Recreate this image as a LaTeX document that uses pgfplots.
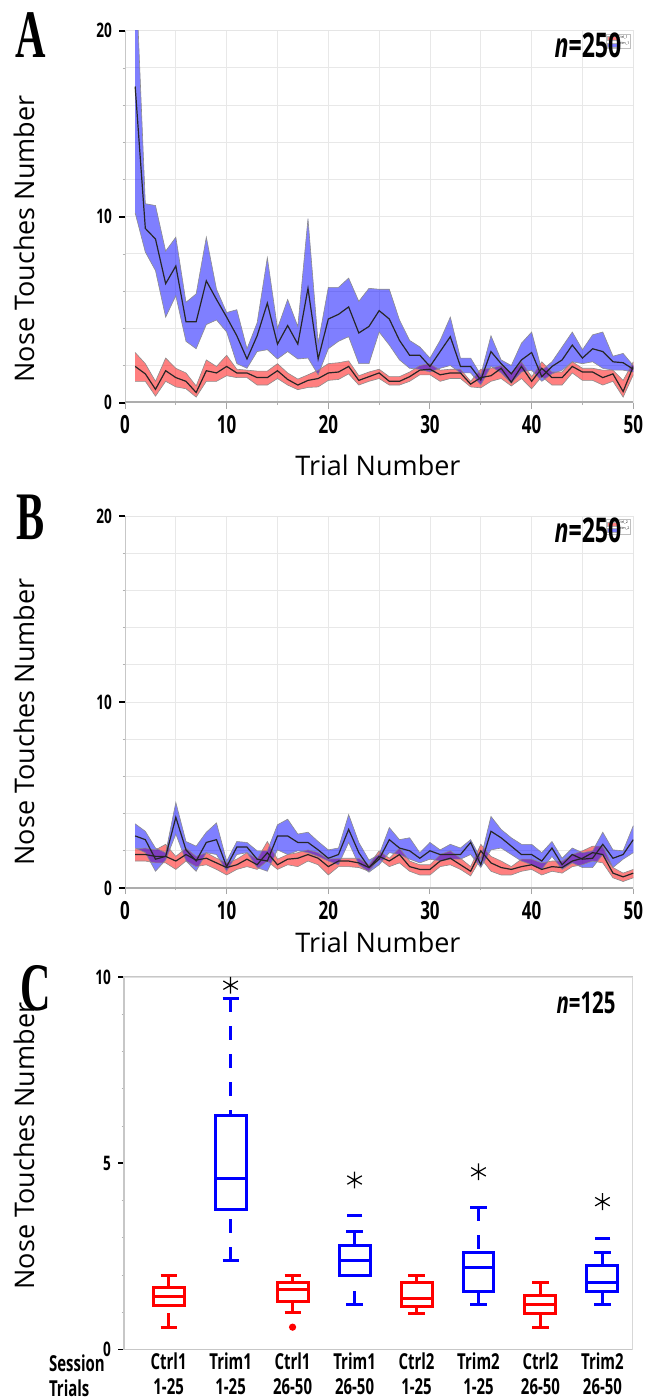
\documentclass[border=0pt]{standalone}
\usepackage{fontspec}
\setmainfont{Open Sans}
\newfontfamily\cf{Open Sans}[FakeStretch=0.68]
\newfontfamily\lf{Liberation Serif}[FakeStretch=0.62]
\usepackage{pgfplots}
\usepackage{pgfplotstable}
\pgfplotsset{compat=1.18}
\usepgfplotslibrary{fillbetween,statistics}

\pgfplotstableread{
t m lo hi
1 17.0 10.2 24
2 9.37 8.1 10.7
3 8.8 7.1 10.6
4 6.4 4.6 8.15
5 7.35 5.75 8.9
6 4.35 3.3 5.4
7 4.35 2.9 5.85
8 6.55 4.2 8.9
9 5.55 4.45 6.1
10 4.6 3.8 4.85
11 3.6 2.1 5.0
12 2.35 1.85 2.9
13 3.6 2.75 4.3
14 5.35 2.85 7.8
15 3.15 2.35 4.0
16 4.15 2.75 5.55
17 3.15 2.35 4.1
18 6.15 2.4 9.9
19 2.35 1.5 3.2
20 4.5 2.9 6.2
21 4.75 3.3 6.2
22 5.15 3.55 6.7
23 3.75 2.1 5.45
24 4.1 2.1 6.15
25 4.95 3.8 6.1
26 4.5 3.1 6.1
27 3.35 2.3 4.45
28 2.55 1.85 3.35
29 2.55 1.8 3.0
30 1.95 1.65 2.4
31 2.75 1.85 3.35
32 3.55 2.0 4.6
33 1.95 1.6 2.4
34 1.95 1.6 2.4
35 1.22 0.95 1.5
36 2.75 1.95 3.6
37 2.1 1.6 2.3
38 1.55 1.05 2.0
39 2.3 1.65 3.2
40 2.7 1.75 3.8
41 1.4 1.15 1.75
42 1.95 1.55 2.2
43 2.3 1.75 3.0
44 3.1 2.2 3.8
45 2.4 2.1 2.85
46 2.9 2.2 3.65
47 2.75 1.85 3.8
48 2.2 1.75 2.5
49 2.15 1.75 2.65
50 1.8 1.65 2.0
}\blueA

\pgfplotstableread{
t m lo hi
1 1.95 1.15 2.7
2 1.55 1.15 2.1
3 0.72 0.35 1.15
4 1.72 1.15 2.4
5 1.35 0.85 1.85
6 1.15 0.75 1.6
7 0.55 0.3 0.9
8 1.72 1.15 2.3
9 1.6 1.15 1.95
10 1.95 1.45 2.55
11 1.6 1.35 1.8
12 1.6 1.35 1.75
13 1.35 0.95 1.7
14 1.35 0.95 1.7
15 1.72 1.3 2.1
16 1.25 0.95 1.6
17 0.95 0.7 1.27
18 1.2 0.82 1.5
19 1.3 0.85 1.75
20 1.6 1.2 2.1
21 1.65 1.25 2.15
22 1.95 1.55 2.25
23 1.2 0.95 1.45
24 1.4 1.15 1.65
25 1.6 1.3 1.8
26 1.15 0.95 1.4
27 1.15 0.95 1.4
28 1.4 1.15 1.65
29 1.75 1.5 2.0
30 1.8 1.5 2.1
31 1.5 1.15 1.75
32 1.6 1.3 1.8
33 1.6 1.3 1.8
34 1.0 0.85 1.15
35 1.35 0.8 1.8
36 1.45 1.15 1.85
37 1.85 1.3 2.0
38 1.1 0.9 1.6
39 1.95 1.3 2.2
40 1.15 0.75 1.4
41 1.85 1.4 2.2
42 1.35 0.95 1.65
43 1.35 0.95 1.65
44 1.95 1.6 2.2
45 1.65 1.2 1.85
46 1.65 1.2 1.85
47 1.35 0.95 1.75
48 1.55 1.15 1.75
49 0.6 0.3 1.2
50 1.95 1.5 2.2
}\redA

\pgfplotstableread{
t m lo hi
1 2.8 2.15 3.45
2 2.6 1.9 3.05
3 1.55 0.9 2.15
4 1.7 1.5 1.9
5 3.8 2.9 4.6
6 2.05 1.45 2.5
7 1.45 0.9 2.25
8 2.45 1.9 3.0
9 2.6 1.8 3.5
10 1.15 0.9 1.45
11 2.2 1.8 2.5
12 2.2 1.9 2.45
13 1.55 1.1 2.0
14 1.45 0.9 2.0
15 2.8 2.05 3.4
16 2.8 1.8 3.7
17 2.45 2.0 2.9
18 2.45 1.9 3.0
19 2.05 1.7 2.5
20 1.6 1.45 2.05
21 1.8 1.25 2.15
22 3.15 2.45 3.95
23 1.9 1.25 2.45
24 1.1 0.85 1.5
25 1.55 1.25 1.8
26 2.6 1.9 3.25
27 2.15 1.8 2.6
28 2.0 1.55 2.7
29 1.6 1.35 1.9
30 2.0 1.55 2.45
31 1.8 1.45 2.05
32 1.8 1.55 2.35
33 1.8 1.55 2.15
34 2.45 1.8 2.6
35 1.25 1.1 1.6
36 3.05 2.05 3.85
37 2.7 2.15 3.15
38 2.25 1.8 2.7
39 1.8 1.45 2.35
40 1.8 1.25 2.35
41 1.45 1.0 1.9
42 2.15 1.7 2.5
43 1.25 1.0 1.6
44 1.8 1.35 2.15
45 1.55 1.1 1.9
46 1.6 1.1 2.0
47 2.35 1.8 3.0
48 1.6 1.1 2.05
49 1.8 1.55 2.0
50 2.6 1.9 3.35
}\blueB

\pgfplotstableread{
t m lo hi
1 1.8 1.45 2.1
2 1.8 1.45 2.15
3 1.7 1.35 2.05
4 1.7 1.35 2.35
5 1.45 1.0 1.7
6 1.8 1.45 2.15
7 1.5 1.15 1.7
8 1.6 1.25 1.9
9 1.35 1.0 1.6
10 1.1 0.7 1.35
11 1.25 1.0 1.55
12 1.55 1.15 1.9
13 1.25 1.0 1.55
14 1.9 1.45 2.5
15 1.25 1.0 1.55
16 1.55 1.25 1.8
17 1.6 1.15 1.9
18 1.8 1.45 2.05
19 1.6 1.25 1.9
20 1.15 0.7 1.55
21 1.45 1.15 1.6
22 1.45 1.15 1.6
23 1.35 1.1 1.6
24 1.1 0.9 1.25
25 1.7 1.55 2.0
26 1.45 1.15 1.6
27 1.8 1.35 2.15
28 1.15 0.9 1.45
29 1.0 0.7 1.25
30 1.0 0.7 1.25
31 1.45 1.15 1.8
32 1.6 1.25 2.0
33 1.25 1.0 1.6
34 0.9 0.65 1.15
35 2.0 1.6 2.35
36 1.35 0.9 1.7
37 1.1 0.7 1.45
38 1.0 0.7 1.15
39 1.15 0.9 1.55
40 1.25 1.0 1.55
41 1.0 0.7 1.35
42 1.15 0.9 1.45
43 1.1 0.8 1.45
44 1.45 1.15 1.8
45 1.6 1.25 2.0
46 1.9 1.45 2.25
47 1.8 1.35 2.25
48 0.8 0.55 1.1
49 0.6 0.35 0.8
50 0.8 0.55 1.0
}\redB

\pgfplotsset{
  trialaxis/.style={
    scale only axis, width=254.15pt, height=186pt, anchor=south west,
    xmin=0, xmax=50, ymin=0, ymax=20,
    xtick={0,10,...,50}, minor xtick={5,15,...,45},
    ytick={0,10,20}, minor ytick={2,4,6,8,12,14,16,18},
    grid=both,
    major grid style={black!9, line width=0.45pt},
    minor grid style={black!9, line width=0.45pt},
    axis line style={black!10, line width=0.45pt},
    tick align=outside, tick pos=left,
    major tick length=3pt, minor tick length=1.2pt,
    major y tick style={black, line width=0.9pt},
    major x tick style={black!35, line width=0.5pt},
    minor tick style={black!30, line width=0.4pt},
    /pgf/number format/assume math mode=true,
    yticklabel style={font=\cf\bfseries\fontsize{10}{10}\selectfont},
    xticklabel style={font=\cf\bfseries\fontsize{12.5}{12.5}\selectfont},
    legend style={at={(0.996,0.992)}, anchor=north east,
      font=\fontsize{1.8}{2}\selectfont, inner sep=0.4pt,
      draw=black!25, fill=white, row sep=-0.3pt,
      nodes={inner sep=0.3pt}},
    legend cell align=left,
  },
  bandedge/.style={black!45, line width=0.3pt, forget plot},
  meanline/.style={black!85, line width=0.6pt, forget plot},
  boxst/.style={line width=1.5pt, solid,
    boxplot/box extend=0.5, boxplot/whisker extend=0.26},
  redleg/.style={legend image code/.code={\filldraw[fill=red!50,draw=black!30,line width=0.1pt] (0pt,-1pt) rectangle (5pt,1pt);}},
  blueleg/.style={legend image code/.code={\filldraw[fill=blue!50,draw=black!30,line width=0.1pt] (0pt,-1pt) rectangle (5pt,1pt);}},
}

\begin{document}
\begin{tikzpicture}

% ---------- Panel A ----------
\begin{axis}[trialaxis, at={(62.5pt,-201.35pt)}]
\addlegendimage{redleg}
\addlegendimage{blueleg}
\addplot[bandedge, name path=ru] table[x=t,y=hi]{\redA};
\addplot[bandedge, name path=rl] table[x=t,y=lo]{\redA};
\addplot[fill=red, fill opacity=0.5, draw=none, forget plot] fill between[of=ru and rl];
\addplot[bandedge, name path=bu] table[x=t,y=hi]{\blueA};
\addplot[bandedge, name path=bl] table[x=t,y=lo]{\blueA};
\addplot[fill=blue, fill opacity=0.5, draw=none, forget plot] fill between[of=bu and bl];
\addplot[meanline] table[x=t,y=m]{\redA};
\addplot[meanline] table[x=t,y=m]{\blueA};
\draw[black!22, line width=1.3pt] (rel axis cs:0,0) -- (rel axis cs:0,1);
\draw[black!32, line width=1.3pt] (rel axis cs:0,0) -- (rel axis cs:1,0);
\legend{Ctrl\_1,Trim\_1}
\end{axis}

% ---------- Panel B ----------
\begin{axis}[trialaxis, at={(62.5pt,-444pt)}]
\addlegendimage{redleg}
\addlegendimage{blueleg}
\addplot[bandedge, name path=ru] table[x=t,y=hi]{\redB};
\addplot[bandedge, name path=rl] table[x=t,y=lo]{\redB};
\addplot[fill=red, fill opacity=0.5, draw=none, forget plot] fill between[of=ru and rl];
\addplot[bandedge, name path=bu] table[x=t,y=hi]{\blueB};
\addplot[bandedge, name path=bl] table[x=t,y=lo]{\blueB};
\addplot[fill=blue, fill opacity=0.5, draw=none, forget plot] fill between[of=bu and bl];
\addplot[meanline] table[x=t,y=m]{\redB};
\addplot[meanline] table[x=t,y=m]{\blueB};
\draw[black!22, line width=1.3pt] (rel axis cs:0,0) -- (rel axis cs:0,1);
\draw[black!32, line width=1.3pt] (rel axis cs:0,0) -- (rel axis cs:1,0);
\legend{Ctrl\_2,Trim\_2}
\end{axis}

% ---------- Panel C ----------
\begin{axis}[scale only axis, width=254.25pt, height=186.25pt, anchor=south west,
  at={(62pt,-674.75pt)},
  xmin=0.28, xmax=8.485, ymin=0, ymax=10,
  xtick={1,...,8},
  xticklabels={{Ctrl1\\1-25},{Trim1\\1-25},{Ctrl1\\26-50},{Trim1\\26-50},
               {Ctrl2\\1-25},{Trim2\\1-25},{Ctrl2\\26-50},{Trim2\\26-50}},
  ytick={0,5,10}, minor ytick={1,2,3,4,6,7,8,9},
  axis line style={black!22, line width=0.6pt},
  tick align=outside, tick pos=left,
  major tick length=3pt, minor tick length=1.2pt,
  major y tick style={black, line width=0.9pt},
  major x tick style={draw=none},
  minor tick style={black!30, line width=0.4pt},
  /pgf/number format/assume math mode=true,
  yticklabel style={font=\cf\bfseries\fontsize{10}{10}\selectfont},
  xticklabel style={font=\cf\bfseries\fontsize{11}{12.5}\selectfont, align=center, yshift=4.8pt},
  boxplot/draw direction=y,
  boxplot/draw/lower whisker/.code={
    \draw[dash pattern=on 7pt off 7pt]
      (boxplot box cs:\pgfplotsboxplotvalue{lower whisker},0.5) --
      (boxplot box cs:\pgfplotsboxplotvalue{lower quartile},0.5);
    \draw[solid]
      (boxplot whisker cs:\pgfplotsboxplotvalue{lower whisker},0) --
      (boxplot whisker cs:\pgfplotsboxplotvalue{lower whisker},1);
  },
  boxplot/draw/upper whisker/.code={
    \draw[dash pattern=on 7pt off 7pt]
      (boxplot box cs:\pgfplotsboxplotvalue{upper whisker},0.5) --
      (boxplot box cs:\pgfplotsboxplotvalue{upper quartile},0.5);
    \draw[solid]
      (boxplot whisker cs:\pgfplotsboxplotvalue{upper whisker},0) --
      (boxplot whisker cs:\pgfplotsboxplotvalue{upper whisker},1);
  },
]
\addplot[red, boxst, boxplot prepared={draw position=1, median=1.42, upper quartile=1.67,
  lower quartile=1.18, upper whisker=2.0, lower whisker=0.6}] coordinates {};
\addplot[blue, boxst, boxplot prepared={draw position=2, median=4.6, upper quartile=6.28,
  lower quartile=3.75, upper whisker=9.43, lower whisker=2.38}] coordinates {};
\addplot[red, boxst, mark=*, mark size=1pt, boxplot prepared={draw position=3, median=1.6, upper quartile=1.8,
  lower quartile=1.3, upper whisker=2.0, lower whisker=1.0}] coordinates {(0,0.6)};
\addplot[blue, boxst, mark=-, mark size=3.9pt, boxplot prepared={draw position=4, median=2.38, upper quartile=2.8,
  lower quartile=2.0, upper whisker=3.16, lower whisker=1.2}] coordinates {(0,3.6)};
\addplot[red, boxst, boxplot prepared={draw position=5, median=1.37, upper quartile=1.8,
  lower quartile=1.15, upper whisker=2.0, lower whisker=0.98}] coordinates {};
\addplot[blue, boxst, boxplot prepared={draw position=6, median=2.2, upper quartile=2.6,
  lower quartile=1.55, upper whisker=3.82, lower whisker=1.2}] coordinates {};
\addplot[red, boxst, boxplot prepared={draw position=7, median=1.2, upper quartile=1.45,
  lower quartile=0.98, upper whisker=1.8, lower whisker=0.6}] coordinates {};
\addplot[blue, boxst, mark=-, mark size=3.9pt, boxplot prepared={draw position=8, median=1.8, upper quartile=2.25,
  lower quartile=1.55, upper whisker=2.6, lower whisker=1.2}] coordinates {(0,2.98)};
\addplot[only marks, mark=asterisk, mark size=4.2pt, black, line width=0.6pt]
  coordinates {(2,9.78) (4,4.55) (6,4.77) (8,3.97)};
\draw[black!12, line width=0.6pt] (rel axis cs:0,1) -- (rel axis cs:1,1) -- (rel axis cs:1,0);
\end{axis}

% ---------- texts ----------
\node[font=\lf\bfseries\fontsize{34}{34}\selectfont] at (15.5pt,-17.5pt) {A};
\node[font=\lf\bfseries\fontsize{34}{34}\selectfont] at (15.5pt,-258.5pt) {B};
\node[font=\lf\bfseries\fontsize{34}{34}\selectfont] at (18pt,-494pt) {C};

\node[rotate=90, font=\fontsize{13.5}{13.5}\selectfont] at (12pt,-119.5pt) {Nose Touches Number};
\node[rotate=90, font=\fontsize{13.5}{13.5}\selectfont] at (12pt,-361pt) {Nose Touches Number};
\node[rotate=90, font=\fontsize{13.5}{13.5}\selectfont] at (12pt,-573pt) {Nose Touches Number};

\node[font=\fontsize{13.5}{13.5}\selectfont] at (189pt,-232.5pt) {Trial Number};
\node[font=\fontsize{13.5}{13.5}\selectfont] at (189pt,-471pt) {Trial Number};

\node[font=\cf\bfseries\fontsize{17}{17}\selectfont] at (294pt,-22.5pt) {\textit{n}=250};
\node[font=\cf\bfseries\fontsize{17}{17}\selectfont] at (294pt,-265pt) {\textit{n}=250};
\node[font=\cf\bfseries\fontsize{15}{15}\selectfont] at (293pt,-501.5pt) {\textit{n}=125};

\node[anchor=west, font=\cf\bfseries\fontsize{11}{11}\selectfont] at (21pt,-681.5pt) {Session};
\node[anchor=west, font=\cf\bfseries\fontsize{11}{11}\selectfont] at (21pt,-694pt) {Trials};

\pgfresetboundingbox
\path (0pt,0pt) rectangle (323pt,-699.5pt);
\end{tikzpicture}
\end{document}
